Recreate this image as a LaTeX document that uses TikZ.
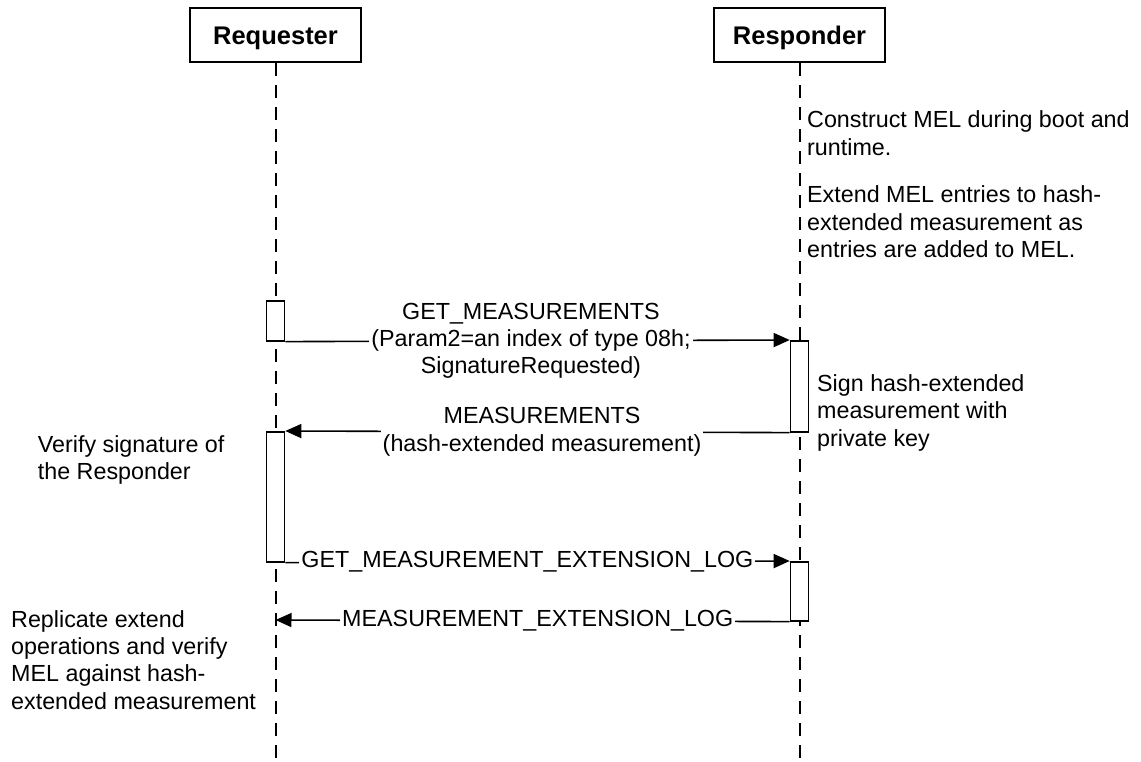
\documentclass[tikz,border=0pt]{standalone}
\usepackage{fontspec}
\setmainfont{Liberation Sans}
\usetikzlibrary{arrows.meta}
\newcommand\txtfont{\fontsize{23.3}{27.4}\selectfont}
\begin{document}
\begin{tikzpicture}[x=1pt,y=-1pt,
  actor/.style={draw, line width=2pt, minimum width=171pt, minimum height=54pt, inner sep=0pt, text height=18pt, text depth=0pt, font=\fontsize{25.5}{30}\selectfont\bfseries},
  life/.style={line width=2pt, dash pattern=on 13pt off 9pt},
  bar/.style={draw, fill=white, line width=1.6pt, minimum width=18pt, inner sep=0pt, anchor=north},
  msg/.style={line width=1.6pt, -{Triangle[length=16pt,width=14pt]}},
  lbl/.style={fill=white, inner sep=2pt, align=center, font=\txtfont},
  note/.style={anchor=north west, inner sep=0pt, align=left, font=\txtfont},
]
\useasboundingbox (0,0) rectangle (1141,761);

% actors
\node[actor] (req) at (275.5,35) {Requester};
\node[actor] (res) at (799.5,35) {Responder};

% lifelines
\coordinate (reqend) at (275.5,758);
\coordinate (resend) at (799.5,758);
\draw[life] (req.south) -- (reqend);
\draw[life] (res.south) -- (resend);

% activation bars
\node[bar, minimum height=40pt] (qa1) at (275.5,300) {};
\node[bar, minimum height=130pt] (qa2) at (275.5,431) {};
\node[bar, minimum height=91pt] (pa1) at (799.5,340) {};
\node[bar, minimum height=59pt] (pa2) at (799.5,561) {};

% messages
\draw[msg] (qa1.south east) -- node[lbl,pos=0.487] (m1) {GET\_MEASUREMENTS\\(Param2=an index of type 08h;\\SignatureRequested)} (pa1.north west);
\draw[msg] (pa1.south west) -- node[lbl,pos=0.491] (m2) {MEASUREMENTS\\(hash-extended measurement)} (qa2.north east);
\draw[msg] (qa2.south east) -- node[lbl,pos=0.48] (m3) {GET\_MEASUREMENT\_EXTENSION\_LOG} (pa2.north west);
\coordinate (q620) at (275.5,620);
\draw[msg] (pa2.south west) -- node[lbl,pos=0.49] (m4) {MEASUREMENT\_EXTENSION\_LOG} (q620);

% notes
\node[note] (n1) at (807,108.5) {\strut Construct MEL during boot and\\runtime.};
\node[note] (n2) at (807,183.5) {\strut Extend MEL entries to hash-\\extended measurement as\\entries are added to MEL.};
\node[note] (n3) at (817,372) {\strut Sign hash-extended\\measurement with\\private key};
\node[note] (n4) at (37.7,433.1) {\strut Verify signature of\\the Responder};
\node[note] (n5) at (11,607.8) {\strut Replicate extend\\operations and verify\\MEL against hash-\\extended measurement};
\end{tikzpicture}
\end{document}
